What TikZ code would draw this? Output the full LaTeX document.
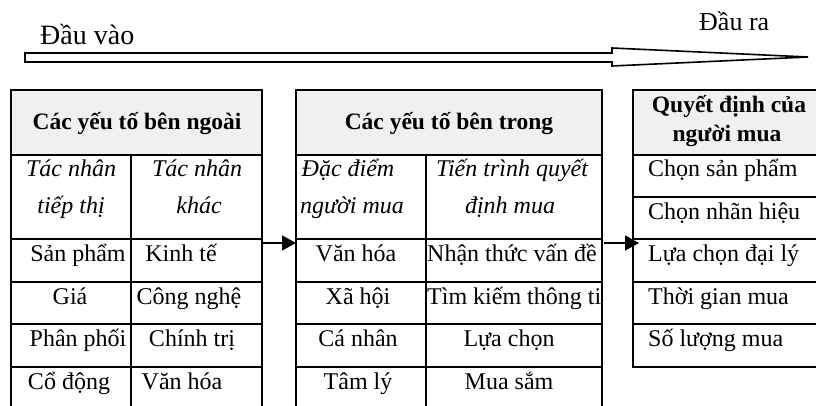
\documentclass[tikz,border=0pt]{standalone}
\usepackage{fontspec}
\setmainfont{Liberation Serif}
\usetikzlibrary{arrows.meta}
\definecolor{hdrgray}{RGB}{240,240,240}
\begin{document}
\begin{tikzpicture}[x=1pt,y=-1pt,
  grid/.style={line width=1.8pt},
  txt/.style={inner sep=0pt, anchor=base, font=\fontsize{24}{28}\selectfont},
  txtl/.style={txt, anchor=base west},
  hdr/.style={inner sep=0pt, anchor=base, font=\fontsize{23.5}{28}\selectfont\bfseries},
  sub/.style={inner sep=0pt, anchor=base, font=\fontsize{24}{28}\selectfont\itshape},
  lbl/.style={inner sep=0pt, anchor=base west, font=\fontsize{26}{30}\selectfont},
  conn/.style={line width=1.3pt, -{Triangle[length=14pt,width=15pt]}},
  bigarrow/.style={line width=1.6pt, line join=miter}
]
\useasboundingbox (0,0) rectangle (816,406);
\clip (0,0) rectangle (816,406);

% top arrow
\draw[bigarrow] (25,53) -- (612,53) -- (612,48) -- (808,57) -- (612,66) -- (612,62) -- (25,62) -- cycle;
\node[lbl, font=\fontsize{28}{30}\selectfont] (in) at (40,45) {Đầu vào};
\node[lbl] (out) at (699,31) {Đầu ra};

% table 1
\fill[hdrgray] (11,90) rectangle (262,155);
\draw[grid] (11,410) -- (11,90) -- (262,90) -- (262,410);
\draw[grid] (11,155) -- (262,155);
\draw[grid] (131,155) -- (131,410);
\foreach \yy in {239,282,324,367} \draw[grid] (11,\yy) -- (262,\yy);
\node[hdr] (h1) at (137,130) {Các yếu tố bên ngoài};
\node[sub] (s11a) at (71,177) {Tác nhân};
\node[sub] (s11b) at (71,213) {tiếp thị};
\node[sub] (s12a) at (197,177) {Tác nhân};
\node[sub] (s12b) at (199,213) {khác};
\node[txt] (r11) at (78,261) {Sản phẩm};
\node[txt] (r12) at (181,261) {Kinh tế};
\node[txt] (r21) at (70,304) {Giá};
\node[txt] (r22) at (189,304) {Công nghệ};
\node[txt] (r31) at (78,346) {Phân phối};
\node[txt] (r32) at (192,346) {Chính trị};
\node[txt] (r41) at (69,389) {Cổ động};
\node[txt] (r42) at (182,389) {Văn hóa};

% table 2
\fill[hdrgray] (296,90) rectangle (602,155);
\draw[grid] (296,410) -- (296,90) -- (602,90) -- (602,410);
\draw[grid] (296,155) -- (602,155);
\draw[grid] (426,155) -- (426,410);
\foreach \yy in {239,282,324,367} \draw[grid] (296,\yy) -- (602,\yy);
\node[hdr] (h2) at (449,130) {Các yếu tố bên trong};
\node[sub] (s21a) at (348,177) {Đặc điểm};
\node[sub] (s21b) at (352,213) {người mua};
\node[sub] (s22a) at (512,177) {Tiến trình quyết};
\node[sub] (s22b) at (510,213) {định mua};
\node[txt] (q11) at (356,261) {Văn hóa};
\node[txtl] (q12) at (427,261) {Nhận thức vấn đề};
\node[txt] (q21) at (358,304) {Xã hội};
\node[txtl] (q22) at (427,304) {Tìm kiếm thông ti};
\node[txt] (q31) at (358,346) {Cá nhân};
\node[txt] (q32) at (509,346) {Lựa chọn};
\node[txt] (q41) at (358,389) {Tâm lý};
\node[txt] (q42) at (509,389) {Mua sắm};

% table 3
\fill[hdrgray] (633,90) rectangle (830,155);
\draw[grid] (830,90) -- (633,90) -- (633,367) -- (830,367);
\foreach \yy in {155,197,239,282,324} \draw[grid] (633,\yy) -- (830,\yy);
\node[hdr] (h3a) at (729,113) {Quyết định của};
\node[hdr] (h3b) at (727,142) {người mua};
\node[txtl] (d1) at (648,177) {Chọn sản phẩm};
\node[txtl] (d2) at (648,219) {Chọn nhãn hiệu};
\node[txtl] (d3) at (648,261) {Lựa chọn đại lý};
\node[txtl] (d4) at (648,304) {Thời gian mua};
\node[txtl] (d5) at (648,346) {Số lượng mua};

% connectors
\coordinate (c1a) at (262,243);
\coordinate (c1b) at (296,243);
\coordinate (c2a) at (604,243);
\coordinate (c2b) at (639,243);
\draw[conn] (c1a) -- (c1b);
\draw[conn] (c2a) -- (c2b);
\end{tikzpicture}
\end{document}
